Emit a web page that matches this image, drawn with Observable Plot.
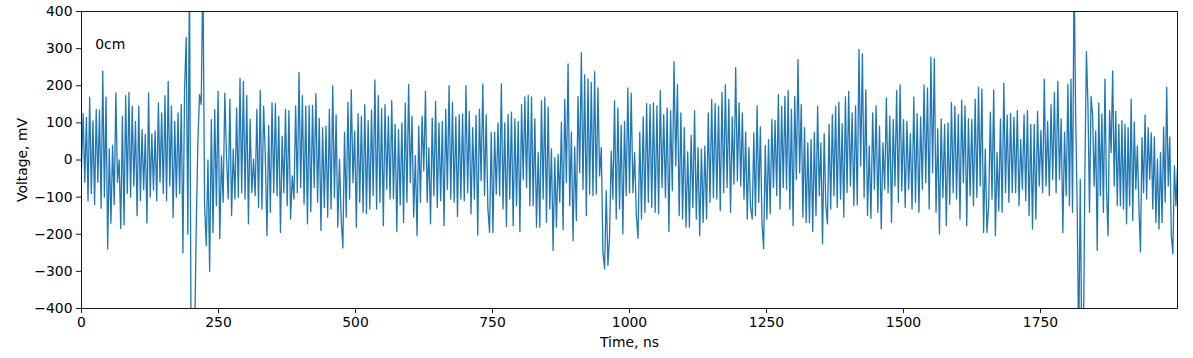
<!DOCTYPE html>
<html>
<head>
<meta charset="utf-8">
<script src="https://cdn.jsdelivr.net/npm/d3@7"></script>
<script src="https://cdn.jsdelivr.net/npm/@observablehq/plot@0.6"></script>
<style>
  body { margin: 0; background: #fff; }
</style>
</head>
<body>
<div id="chart"></div>
<script>
// Voltage samples (mV), one list per 200 ns block.
const segmentStarts = [0, 200, 400, 600, 800, 1000, 1200, 1400, 1600, 1800];
const segmentLength = 200;

const seg0 = [-20, 125, -60, 115, -110, 169, -90, 105, -120, 136, -60, 134, -130, 239, -100, 169, -240, 30, -170, 40, -120, 181, -60, 0, -185, 118, -175, 173, -90, 182, -100, 145, -70, 104, -150, 145, -110, 82, -80, 69, -170, 180, -100, 70, -80, 78, -110, 154, -60, 127, -90, 173, -110, 212, -70, 146, -155, 104, -100, 127, -90, 150, -250, 189, 330, -200, 520];
const seg1 = [-520, -480, -520, -195, 46, 176, 150, 520, -123, -230, 0, -300, 109, -195, 136, -123, 185, -212, 11, -114, 180, 11, -105, 164, -150, 29, -105, 140, -101, 220, -88, 212, -105, 173, -172, 110, -88, 2, -96, 136, -128, 187, -132, 145, 11, -204, 93, -141, 154, -88, 152, -96, 118, -195, 64, -88, 136, -123, 133, -159, -43, -105, 146, -88, 236];
const seg2 = [-74, 173, -119, 145, -172, 147, -139, 147, -74, 179, -114, 112, -190, 87, -128, 91, -154, 137, -132, 200, -101, 122, -181, 2, -159, -237, 75, -154, 156, -105, 189, -61, 78, -181, 125, -114, 118, -141, 149, -145, 106, -132, 134, -96, 216, -132, 173, -114, 138, -177, 149, -79, 118, -105, 160, -104, 96, -193, 82, -121, 100, -168, 154, -114, 203];
const seg3 = [-61, 118, -154, 12, -204, 91, -114, 118, -29, 185, -114, 33, -172, 113, -96, 158, -128, 100, -110, 104, -177, 136, -79, 200, -105, 155, -114, 116, -152, 122, -105, 124, -110, 200, -88, 131, -145, 87, -105, 120, -202, 137, -56, 205, -96, 122, -130, -195, 75, -195, 75, -92, 100, -96, 205, -132, 100, -179, 122, -105, 129, -177, 111, -123, 104];
const seg4 = [-193, 149, -52, 170, -74, 174, -123, 170, -123, 111, -181, 20, -181, 160, -105, 169, -168, 143, -132, 30, -244, 6, -181, 15, -114, 102, -188, 163, -61, 259, -123, 75, -217, 35, -163, 171, -34, 289, -79, 229, -150, 218, -92, 209, -96, 238, -92, 194, -43, 33, -248, -293, -83, -284, -204, 24, -105, 160, -159, 140, -132, 94, -199, 104, -96, 194];
const seg5 = [-88, 180, -88, 20, -150, -211, 75, -159, 116, -141, 152, -114, 149, -128, 154, -141, 146, -145, 187, -74, 122, -101, 140, -193, 133, -83, 265, -16, 203, -150, 127, -159, 87, -181, 22, -181, 66, -128, 133, -159, 33, -204, 30, -168, 38, -159, 127, -114, 163, -101, 152, -105, 145, -137, 182, -88, 203, -74, 163, -141, 116, -65, 249, -56];
const seg6 = [154, -70, 127, -105, 75, -159, 33, -128, -159, 73, -150, 146, -114, 89, -172, -239, 39, -159, 55, -145, 109, -74, 107, -96, 176, -132, 145, -74, 171, -79, 187, -132, 137, -177, 171, -52, 271, -34, 149, -154, 87, -168, 46, -168, 55, -193, 75, -150, 145, -96, 46, -226, 71, -123, -172, 96, -132, 122, -96, 145, -128, 156, -105, 98, -154, 170, -88];
const seg7 = [185, -70, 127, -123, 146, -121, 298, -16, 286, -101, 189, -150, 38, -157, 127, -79, 146, -141, 91, -186, 46, -79, 167, -88, 118, -168, 109, -70, 187, -114, 202, -83, 109, -128, 104, -79, 71, -132, 169, -114, 125, -141, 116, -79, 202, -61, 194, -132, 277, -34, 273, -141, 84, -199, 111, -101, 96, -177, 100, -119, 155, -88, 145, -105];
const seg8 = [122, -159, 161, -61, 146, -177, 111, -96, 109, -123, 164, -101, 196, -70, 191, -195, 29, -195, -123, 129, -105, 189, -204, 20, -137, 111, -141, 207, -88, 121, -114, 125, -88, 115, -88, 133, -123, 55, -79, 122, -110, 133, -150, 96, -186, 96, -159, 131, -70, 80, -88, 218, -70, 104, -96, 149, -52, 182, -88, 212, -52, 111, -195, 75, -96];
const seg9 = [204, -123, 218, -141, 520, 127, -123, -520, -52, -520, -520, -34, 292, 149, -141, 171, 122, -70, 78, -244, 154, -96, 124, -141, 218, -79, -204, 133, 20, 240, -70, 131, -123, 96, -123, 106, -132, 96, -172, 87, -123, 164, -163, 102, -79, 38, -123, -248, 60, -88, 121, -105, 87, -52, 73, -132, 62, -168, 2, -186, 20, -168, 89, -114, 196, -70, 62, -204, -253, -16, -123, -20];

const segments = [seg0, seg1, seg2, seg3, seg4, seg5, seg6, seg7, seg8, seg9];

const xTicks = [0, 250, 500, 750, 1000, 1250, 1500, 1750];
const yTicks = [-400, -300, -200, -100, 0, 100, 200, 300, 400];
const xDomain = [0, 2000];
const yDomain = [-400, 400];

const noteText = ["0cm"];
const noteTime = [25];
const noteVoltage = [311];

const xLabel = ["Time, ns"];
const yLabel = ["Voltage, mV"];

// Build the table the line mark needs.
const rows = [];
segments.forEach((vals, s) => {
  const last = s === segments.length - 1;
  const n = last ? vals.length - 1 : vals.length;
  vals.forEach((v, i) => rows.push({ time: segmentStarts[s] + i * segmentLength / n, voltage: v }));
});

const font = "'DejaVu Sans', sans-serif";
const fs = 13.9;
const fmt = d3.format("d");

const chart = Plot.plot({
  width: 1193,
  height: 358,
  marginLeft: 81,
  marginRight: 16,
  marginTop: 11,
  marginBottom: 50,
  style: { fontFamily: font, fontSize: fs + "px", color: "black", background: "white", overflow: "visible" },
  x: { domain: xDomain, label: null },
  y: { domain: yDomain, label: null },
  marks: [
    Plot.line(rows, { x: "time", y: "voltage", stroke: "#1f77b4", strokeWidth: 1.3, clip: true }),
    Plot.frame({ stroke: "black", strokeWidth: 0.9 }),
    Plot.axisX({ ticks: xTicks, tickFormat: fmt, tickSize: 5, tickPadding: 4, label: null, fontSize: fs, strokeWidth: 0.9 }),
    Plot.axisY({ ticks: yTicks, tickSize: 5, tickPadding: 4, label: null, fontSize: fs, strokeWidth: 0.9 }),
    Plot.text(noteText, { x: noteTime, y: noteVoltage, text: noteText, textAnchor: "start", lineAnchor: "middle", fontSize: fs, fill: "black" }),
    Plot.text(xLabel, { text: xLabel, frameAnchor: "bottom", dy: 34, textAnchor: "middle", lineAnchor: "middle", fontSize: fs, fill: "black" }),
    Plot.text(yLabel, { text: yLabel, frameAnchor: "left", dx: -58.5, rotate: -90, textAnchor: "middle", lineAnchor: "middle", fontSize: fs, fill: "black" })
  ]
});

document.getElementById("chart").appendChild(chart);
</script>
</body>
</html>
